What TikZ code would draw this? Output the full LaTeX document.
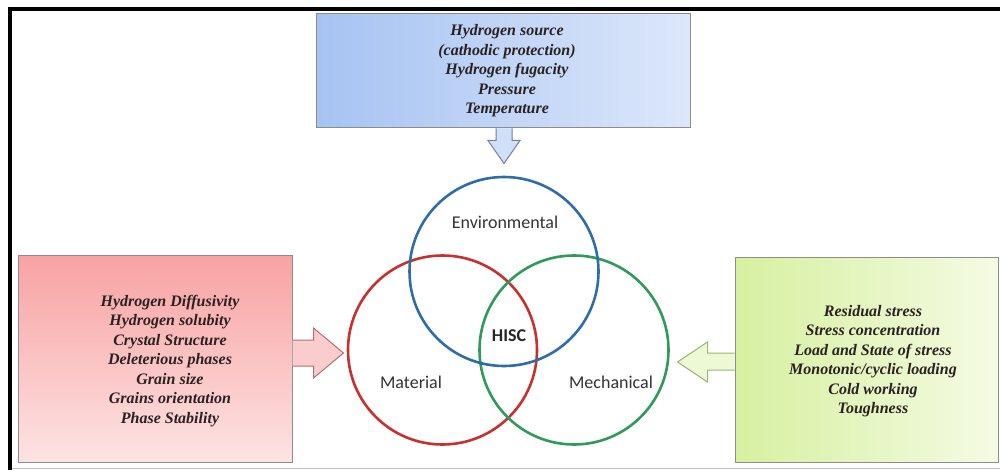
\documentclass[tikz,border=0pt]{standalone}
\usepackage{fontspec}
\setmainfont{Liberation Serif}
\newfontfamily\calib{Carlito}
\usetikzlibrary{calc}
\definecolor{blueA}{HTML}{A6C3F2}
\definecolor{blueB}{HTML}{DCE7FA}
\definecolor{redA}{HTML}{F8A2A2}
\definecolor{redB}{HTML}{FDE3E3}
\definecolor{grnA}{HTML}{D6F0A0}
\definecolor{grnB}{HTML}{F5FBE3}
\definecolor{cBlue}{HTML}{2F6CAA}
\definecolor{cRed}{HTML}{C8302E}
\definecolor{cGreen}{HTML}{2E9A5C}
\definecolor{txt}{HTML}{2A2222}
\definecolor{lbl}{HTML}{333333}
\tikzset{
  box/.style={draw=black!45, line width=1pt, inner sep=0pt},
  boxtext/.style={align=center, text=txt, font=\fontsize{16}{19.5}\selectfont\bfseries\itshape},
  ring/.style={circle, draw, line width=2.6pt, minimum size=189pt, inner sep=0pt},
  ringlabel/.style={text=lbl, font=\calib\fontsize{18}{20}\selectfont},
  blockarrow/.style={line width=1pt, line join=miter}
}
\begin{document}
\begin{tikzpicture}[x=1pt,y=-1pt]
\useasboundingbox (0,0) rectangle (1000,470);
\fill[white] (0,0) rectangle (1000,470);
% frame
\draw[line width=4pt] (10,470) -- (10,9) -- (1000,9);
\draw[black!25, line width=1pt] (12,468) -- (1000,468);

% boxes
\node[box, left color=blueA, right color=blueB, minimum width=374pt, minimum height=114pt] (env) at (503,71) {};
\node[boxtext] (envt) at (507,71) {Hydrogen source\\(cathodic protection)\\Hydrogen fugacity\\Pressure\\Temperature};

\node[box, top color=redA, bottom color=redB, minimum width=274pt, minimum height=207pt] (mat) at (155,358.5) {};
\node[boxtext] (matt) at (170,361) {Hydrogen Diffusivity\\Hydrogen solubity\\Crystal Structure\\Deleterious phases\\Grain size\\Grains orientation\\Phase Stability};

\node[box, left color=grnA, right color=grnB, minimum width=263pt, minimum height=205pt] (mech) at (866.5,359.5) {};
\node[boxtext] (mecht) at (873,361) {Residual stress\\Stress concentration\\Load and State of stress\\Monotonic/cyclic loading\\Cold working\\Toughness};

% block arrows
\draw[blockarrow, fill=blueB!80!blueA, draw=black!35!blueA]
  ($(env.south)+(-7,0)$) -- ++(0,12) -- ++(-8,0) -- ($(env.south)+(1,35)$) -- ($(env.south)+(17,12)$) -- ++(-8,0) -- ($(env.south)+(9,0)$);
\draw[blockarrow, fill=redA!55!white, draw=black!30!redA]
  ($(mat.east)+(0,-18.5)$) -- ++(21,0) -- ++(0,-12) -- ($(mat.east)+(51,-5.5)$) -- ($(mat.east)+(21,19.5)$) -- ++(0,-12) -- ($(mat.east)+(0,7.5)$);
\draw[blockarrow, fill=grnA!45!white, draw=black!25!grnA]
  ($(mech.west)+(0,-6.5)$) -- ++(-27,0) -- ++(0,-11) -- ($(mech.west)+(-57,2.5)$) -- ($(mech.west)+(-27,22.5)$) -- ++(0,-12) -- ($(mech.west)+(0,10.5)$);

% Venn circles
\node[ring, draw=cRed] (cmat) at (442.5,350) {};
\node[ring, draw=cGreen] (cmech) at (574,350) {};
\node[ring, draw=cBlue] (cenv) at (504,271.5) {};

\node[ringlabel] (lenv) at (505,222) {Environmental};
\node[ringlabel] (lmat) at (411,382) {Material};
\node[ringlabel] (lmech) at (611,382) {Mechanical};
\node[ringlabel, font=\calib\fontsize{18}{20}\selectfont\bfseries, text=black!85] (lhisc) at (509,336) {HISC};
\end{tikzpicture}
\end{document}
